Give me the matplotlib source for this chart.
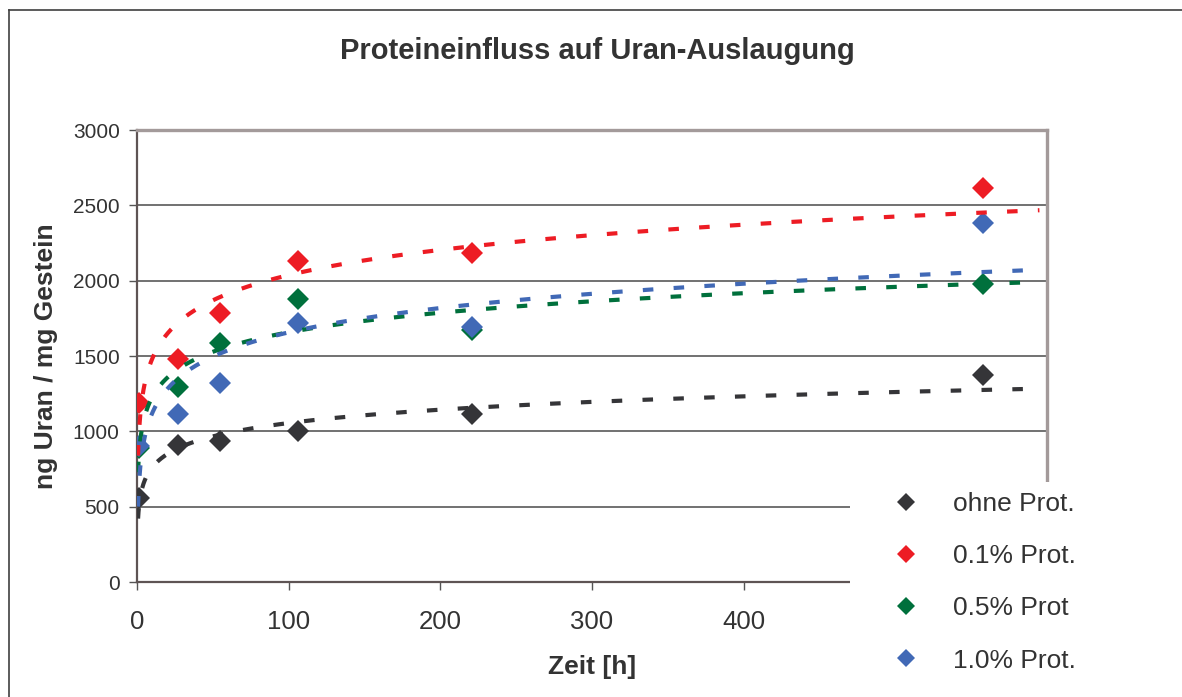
import numpy as np
import matplotlib
matplotlib.use('Agg')
import matplotlib.pyplot as plt
from matplotlib.patches import Rectangle
from matplotlib.lines import Line2D

plt.rcParams['font.family'] = ['Liberation Sans', 'DejaVu Sans']
plt.rcParams['lines.scale_dashes'] = False

# sampling times [h]
zeit = [1.6, 27, 55, 106, 221, 558]

# ng Uran / mg Gestein
ohne = [558, 908, 934, 1001, 1114, 1372]
prot_01 = [1191, 1479, 1786, 2128, 2183, 2616]
prot_05 = [890, 1295, 1587, 1877, 1671, 1975]
prot_10 = [903, 1112, 1324, 1722, 1691, 2380]

labels = ['ohne Prot.', '0.1% Prot.', '0.5% Prot', '1.0% Prot.']
colors = ['#353538', '#ed1c24', '#00703c', '#4169b6']
series = [ohne, prot_01, prot_05, prot_10]

W, H = 1182, 697
fig = plt.figure(figsize=(W / 100, H / 100), dpi=100)
ax = fig.add_axes([137 / W, 1 - 582 / H, 910 / W, 452 / H])

# markers first, log trendlines on top (like excel)
handles = []
for vals, col, lab in zip(series, colors, labels):
    h, = ax.plot(zeit, vals, linestyle='none', marker='D', markersize=11.5,
                 markeredgewidth=0, color=col, label=lab, zorder=3)
    handles.append(h)

xfit = np.linspace(0.7, 595, 2000)
for vals, col in zip(series, colors):
    a, b = np.polyfit(np.log(zeit), vals, 1)  # y = a*ln(x) + b
    ax.plot(xfit, a * np.log(xfit) + b, color=col, lw=3.0,
            linestyle=(0, (7.6, 14.6)), zorder=4, dash_capstyle='butt')

ax.set_xlim(0, 600)
ax.set_ylim(0, 3000)
ax.set_xticks([0, 100, 200, 300, 400, 500])
ax.set_yticks(np.arange(0, 3001, 500))
ax.yaxis.grid(True, color='#4a4a4a', lw=1.1)
ax.set_axisbelow(True)

ax.spines['left'].set_color('#5e5454')
ax.spines['left'].set_linewidth(1.6)
ax.spines['bottom'].set_color('#5e5454')
ax.spines['bottom'].set_linewidth(1.6)
ax.spines['top'].set_color('#a39a9a')
ax.spines['top'].set_linewidth(2.4)
ax.spines['right'].set_color('#a39a9a')
ax.spines['right'].set_linewidth(2.4)

ax.tick_params(axis='y', direction='out', length=5.5, width=1, color='#555555',
               labelsize=15, labelcolor='#333333', pad=7)
ax.tick_params(axis='x', direction='out', length=6, width=1, color='#555555',
               labelsize=18.5, labelcolor='#333333', pad=14.5)

ax.set_xlabel('Zeit [h]', fontsize=19, fontweight='bold', color='#333333')
ax.set_ylabel('ng Uran / mg Gestein', fontsize=19, fontweight='bold', color='#333333')
ax.xaxis.label.set_va('center')
ax.xaxis.set_label_coords(0.5, (582 - 667) / 452)
ax.yaxis.label.set_va('center')
ax.yaxis.set_label_coords((46 - 137) / 910, 0.5)

fig.text(597 / W, 1 - 51 / H, 'Proteineinfluss auf Uran-Auslaugung', fontsize=21,
         fontweight='bold', color='#333333', ha='center', va='center')

# white legend area hides the lower right corner of the plot
fig.patches.append(Rectangle((850 / W, 0), 1 - 850 / W, (H - 482) / H,
                             transform=fig.transFigure, facecolor='white',
                             edgecolor='none', zorder=3))

leg = fig.legend(handles=handles, loc='upper left', bbox_to_anchor=(892.8 / W, 1 - 492 / H),
                 frameon=False, fontsize=19, handlelength=1.0, handletextpad=1.28,
                 borderpad=0, borderaxespad=0, labelspacing=1.07, markerscale=0.8,
                 numpoints=1)
leg.set_zorder(6)
for t in leg.get_texts():
    t.set_color('#333333')

# outer chart border (only left and top edges are in the picture)
fig.lines.append(Line2D([8.5 / W, 8.5 / W], [0, 1 - 10 / H], transform=fig.transFigure,
                        color='#404040', lw=1.2))
fig.lines.append(Line2D([8.5 / W, 1], [1 - 10 / H, 1 - 10 / H], transform=fig.transFigure,
                        color='#404040', lw=1.2))

fig.savefig('out.png', dpi=100)
